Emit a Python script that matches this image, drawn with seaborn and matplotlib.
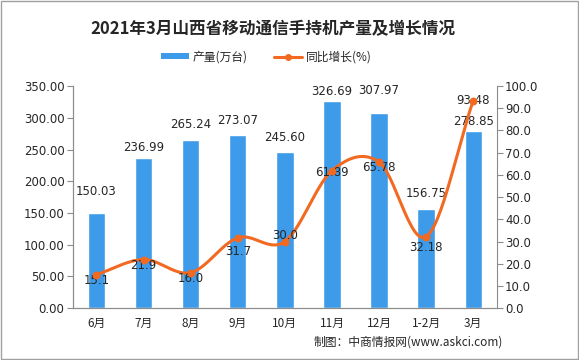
import numpy as np
import matplotlib
matplotlib.use("Agg")
import matplotlib.pyplot as plt
from matplotlib.patches import Patch, Rectangle
from matplotlib.lines import Line2D
import seaborn as sns

# data
months = ["6月", "7月", "8月", "9月", "10月", "11月", "12月", "1-2月", "3月"]
output = [150.03, 236.99, 265.24, 273.07, 245.60, 326.69, 307.97, 156.75, 278.85]
growth = [15.1, 21.9, 16.0, 31.7, 30.0, 61.89, 65.78, 32.18, 93.48]
growth_labels = ["15.1", "21.9", "16.0", "31.7", "30.0", "61.89", "65.78", "32.18", "93.48"]

# label offsets in points (style only)
bar_lab_dy = [11, 3, 6, 6, 6, 2, 11, 6, 2]
line_lab_dy = [-4, -4, -4, -10, 4, -1, -4, -8, 0]

sns.set_style("white")
plt.rcParams["font.family"] = ["Noto Sans CJK SC", "DejaVu Sans"]

bar_color = "#3d9be9"
line_color = "#f26a22"
axis_color = "#8c8c8c"

fig = plt.figure(figsize=(5.79, 3.6), dpi=100)
ax = fig.add_axes([0.126, 0.144, 0.732, 0.617])

sns.barplot(x=months, y=output, color=bar_color, width=0.37, saturation=1, ax=ax)
ax.set_ylim(0, 350)
ax.set_yticks(np.arange(0, 351, 50))
ax.set_yticklabels([f"{v:.2f}" for v in np.arange(0, 351, 50)], family="DejaVu Sans", fontsize=8.5)
ax.set_xlim(-0.5, len(months) - 0.5)
ax.set_xlabel("")
ax.set_ylabel("")
ax.tick_params(axis="x", length=0, labelsize=8.5, pad=6)
ax.set_xticks(np.arange(-0.5, len(months)), minor=True)
ax.tick_params(axis="x", which="minor", length=4, color=axis_color, direction="out")
ax.tick_params(axis="y", length=4, color=axis_color, direction="out", pad=2, left=True)

for i, v in enumerate(output):
    ax.annotate(f"{v:.2f}", (i, v), xytext=(0, bar_lab_dy[i]), textcoords="offset points",
                ha="center", va="bottom", fontsize=8.5, family="DejaVu Sans")

ax2 = ax.twinx()
ax2.set_ylim(0, 100)
ax2.set_yticks(np.arange(0, 101, 10))
ax2.set_yticklabels([f"{v:.1f}" for v in np.arange(0, 101, 10)], family="DejaVu Sans", fontsize=8.5)
ax2.tick_params(axis="y", length=4, color=axis_color, direction="out", pad=2, right=True)

# smooth curve through the points (Catmull-Rom)
xs = np.arange(len(growth), dtype=float)
ys = np.array(growth, dtype=float)
px = np.concatenate([[2 * xs[0] - xs[1]], xs, [2 * xs[-1] - xs[-2]]])
py = np.concatenate([[2 * ys[0] - ys[1]], ys, [2 * ys[-1] - ys[-2]]])
cx, cy = [], []
t = np.linspace(0, 1, 30)
for k in range(1, len(px) - 2):
    for arr, out in ((px, cx), (py, cy)):
        p0, p1, p2, p3 = arr[k - 1], arr[k], arr[k + 1], arr[k + 2]
        out.extend(0.5 * ((2 * p1) + (-p0 + p2) * t + (2 * p0 - 5 * p1 + 4 * p2 - p3) * t ** 2
                          + (-p0 + 3 * p1 - 3 * p2 + p3) * t ** 3))
ax2.plot(cx, cy, color=line_color, lw=2.2, solid_capstyle="round")
ax2.scatter(xs, ys, color=line_color, s=22, zorder=5)

for i, v in enumerate(growth):
    ax2.annotate(growth_labels[i], (i, v), xytext=(0, line_lab_dy[i]), textcoords="offset points",
                 ha="center", va="center", fontsize=8.5, family="DejaVu Sans")

for a in (ax, ax2):
    a.spines["top"].set_visible(False)
    for s in ("left", "right", "bottom"):
        a.spines[s].set_color(axis_color)
        a.spines[s].set_linewidth(0.8)
ax.spines["right"].set_visible(False)

fig.text(0.472, 0.92, "2021年3月山西省移动通信手持机产量及增长情况", ha="center", va="center",
         fontsize=12, fontweight="bold")

handles = [Patch(facecolor=bar_color, edgecolor="none"),
           Line2D([0], [0], color=line_color, lw=2.2, marker="o", markersize=4)]
fig.legend(handles, ["产量(万台)", "同比增长(%)"], loc="center", bbox_to_anchor=(0.46, 0.842),
           ncol=2, frameon=False, fontsize=8.5, handlelength=2.4, handleheight=0.4,
           columnspacing=2.2, handletextpad=0.3)

fig.text(0.868, 0.05, "制图：中商情报网(www.askci.com)", ha="right", va="center", fontsize=8.5)

fig.patches.append(Rectangle((0.001, 0.002), 0.997, 0.995, transform=fig.transFigure,
                             fill=False, edgecolor="#a0a0a0", lw=1))

fig.savefig("out.png", dpi=100)
